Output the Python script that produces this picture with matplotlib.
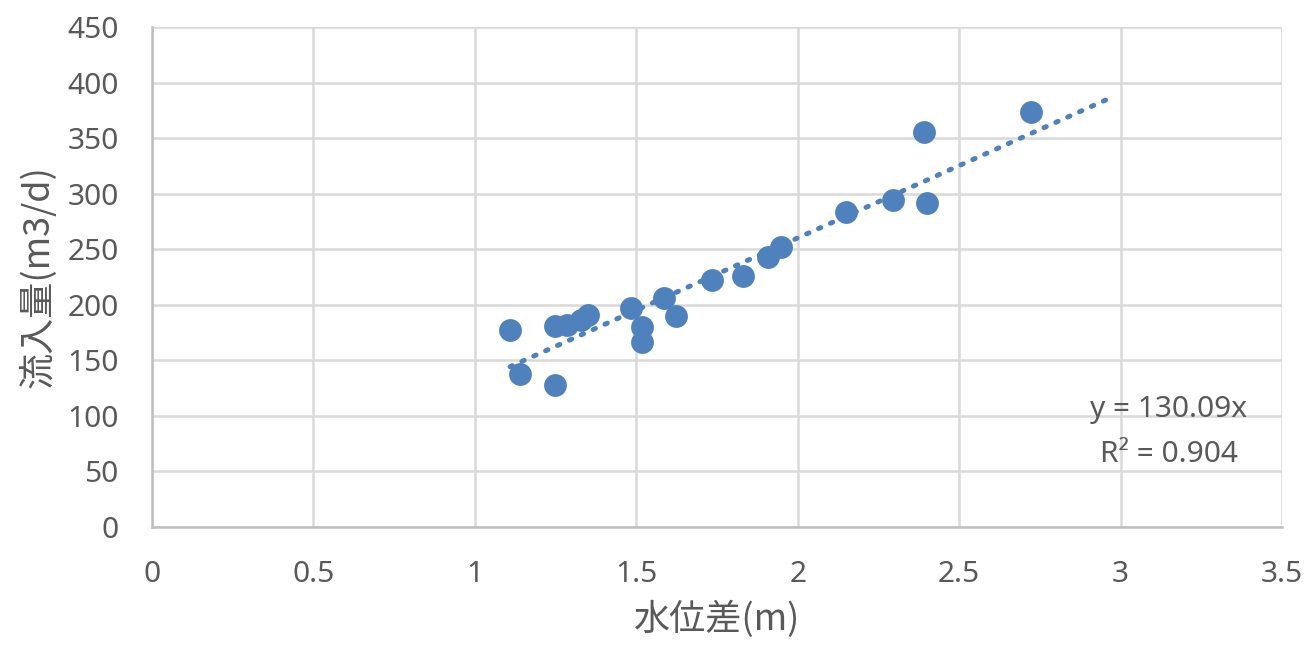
import numpy as np
import matplotlib.pyplot as plt

# data
head_diff = [1.109, 1.140, 1.248, 1.248, 1.285, 1.330, 1.350, 1.484, 1.518,
             1.517, 1.586, 1.623, 1.734, 1.830, 1.908, 1.948, 2.150, 2.295,
             2.391, 2.400, 2.722]
inflow = [177, 138, 128, 181, 182, 186, 191, 197, 180,
          166.5, 206, 190, 222, 226, 243, 252, 283.5, 294,
          355.5, 291.5, 373.5]
slope = 130.09
r2 = 0.904
trend_end = 2.96

x_ticks = [0, 0.5, 1, 1.5, 2, 2.5, 3, 3.5]
y_ticks = list(range(0, 451, 50))

BLUE = "#4F81BD"
TEXT = "#595959"
LATIN = ['Noto Sans', 'DejaVu Sans']
plt.rcParams['font.family'] = ['Noto Sans CJK JP', 'DejaVu Sans']

fig = plt.figure(figsize=(13.06, 6.49), dpi=100)
ax = fig.add_axes([152 / 1306, 122 / 649, 1130 / 1306, 500 / 649])

ax.scatter(head_diff, inflow, s=270, color=BLUE, zorder=3, linewidths=0)

tx = np.array([min(head_diff), trend_end])
ax.plot(tx, slope * tx, color=BLUE, lw=3.6, linestyle=(0, (0.5, 2.1)),
        dash_capstyle="round", zorder=4)

ax.set_xlim(0, 3.5)
ax.set_ylim(0, 450)
ax.set_xticks(x_ticks)
ax.set_xticklabels([f"{v:g}" for v in x_ticks])
ax.set_yticks(y_ticks)
ax.grid(True, color="#D9D9D9", lw=1.8, zorder=0)
ax.set_axisbelow(True)
for side in ["top", "right"]:
    ax.spines[side].set_visible(False)
for side in ["left", "bottom"]:
    ax.spines[side].set_color("#BFBFBF")
    ax.spines[side].set_linewidth(1.8)
ax.tick_params(length=0, pad=24, labelsize=21.5, labelcolor=TEXT)
for lab in ax.get_xticklabels() + ax.get_yticklabels():
    lab.set_family(LATIN)

ax.set_xlabel("水位差(m)", fontsize=26, color=TEXT, labelpad=8)
ax.set_ylabel("流入量(m3/d)", fontsize=26, color=TEXT, labelpad=8)

ax.text(0.900, 0.236, f"y = {slope}x", transform=ax.transAxes, ha="center",
        va="center", fontsize=21.5, color=TEXT, family=LATIN)
ax.text(0.900, 0.146, f"R² = {r2}", transform=ax.transAxes, ha="center",
        va="center", fontsize=21.5, color=TEXT, family=LATIN)

fig.savefig("out.png", dpi=100)
